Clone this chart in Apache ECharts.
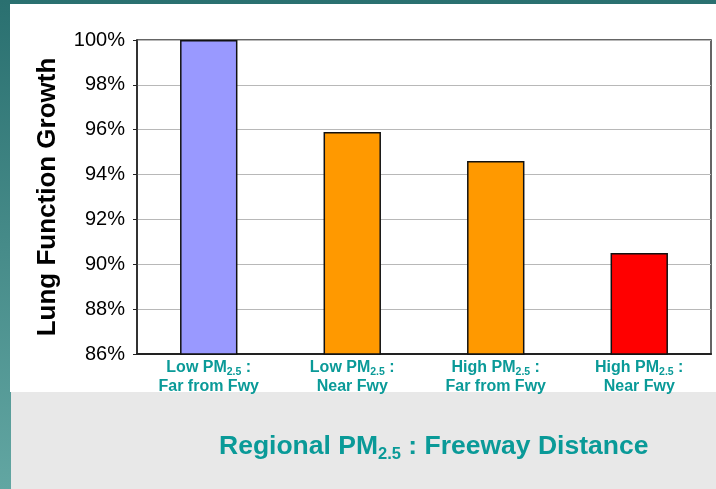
<!DOCTYPE html>
<html>
<head>
<meta charset="utf-8">
<script src="https://cdn.jsdelivr.net/npm/echarts@6/dist/echarts.min.js"></script>
<style>
  html, body { margin: 0; padding: 0; background: #2b7272; }
  #chart { width: 716px; height: 489px; }
</style>
</head>
<body>
<div id="chart"></div>
<script>
// Lung function growth by regional PM2.5 level and freeway distance
const categories = [
  ['Low', 'Far from Fwy'],
  ['Low', 'Near Fwy'],
  ['High', 'Far from Fwy'],
  ['High', 'Near Fwy']
];
const growthValues = [100, 95.9, 94.6, 90.5];
const barColors = ['#9999ff', '#ff9900', '#ff9900', '#ff0000'];
const yTicks = { min: 86, max: 100, interval: 2 };

const teal = '#0a9a98';

const chart = echarts.init(document.getElementById('chart'), null, { renderer: 'canvas' });

const subRich = {
  a: { fontFamily: 'Liberation Sans', fontWeight: 'bold', fontSize: 16, color: teal, lineHeight: 19 },
  s: { fontFamily: 'Liberation Sans', fontWeight: 'bold', fontSize: 10.5, color: teal, lineHeight: 19, padding: [9, 0, 0, 0] }
};

chart.setOption({
  animation: false,
  backgroundColor: 'transparent',
  graphic: [
    {
      type: 'rect', z: -10, silent: true,
      shape: { x: 0, y: 0, width: 716, height: 489 },
      style: {
        fill: new echarts.graphic.LinearGradient(0, 0, 0, 1, [
          { offset: 0, color: '#2a7070' },
          { offset: 1, color: '#62a6a2' }
        ])
      }
    },
    {
      type: 'rect', z: -9, silent: true,
      shape: { x: 10, y: 4, width: 706, height: 388 },
      style: { fill: '#ffffff' }
    },
    {
      type: 'rect', z: -9, silent: true,
      shape: { x: 11, y: 392, width: 705, height: 97 },
      style: { fill: '#e8e8e8' }
    }
  ],
  title: {
    text: '{a|Regional PM}{s|2.5}{a| : Freeway Distance}',
    left: 214,
    top: 426,
    textStyle: {
      rich: {
        a: { fontFamily: 'Liberation Sans', fontWeight: 'bold', fontSize: 26.5, color: teal, lineHeight: 32 },
        s: { fontFamily: 'Liberation Sans', fontWeight: 'bold', fontSize: 16.5, color: teal, lineHeight: 32, padding: [15, 0, 0, 0] }
      }
    }
  },
  grid: {
    left: 137, top: 40, right: 5, bottom: 135,
    show: true,
    backgroundColor: '#ffffff',
    borderColor: '#333333',
    borderWidth: 1.5
  },
  xAxis: {
    type: 'category',
    data: categories.map(c => c[0] + '|' + c[1]),
    axisLine: { lineStyle: { color: '#222222', width: 2 } },
    axisTick: { show: false },
    axisLabel: {
      margin: 4,
      interval: 0,
      formatter: v => {
        const [level, dist] = v.split('|');
        return '{a|' + level + ' PM}{s|2.5}{a| :}\n{a|' + dist + '}';
      },
      rich: subRich
    }
  },
  yAxis: {
    type: 'value',
    min: yTicks.min,
    max: yTicks.max,
    interval: yTicks.interval,
    name: 'Lung Function Growth',
    nameLocation: 'middle',
    nameGap: 76,
    nameTextStyle: { fontFamily: 'Liberation Sans', fontWeight: 'bold', fontSize: 26, color: '#000000' },
    axisLine: { show: true, lineStyle: { color: '#222222', width: 1.5 } },
    axisTick: { show: true, length: 4, lineStyle: { color: '#222222', width: 1 } },
    axisLabel: {
      formatter: v => v + '%',
      fontFamily: 'Liberation Sans',
      fontSize: 20,
      color: '#000000',
      margin: 12
    },
    splitLine: { show: true, lineStyle: { color: '#b8b8b8', width: 1 } }
  },
  series: [{
    type: 'bar',
    data: growthValues.map((v, i) => ({ value: v, itemStyle: { color: barColors[i] } })),
    barWidth: '40%',
    itemStyle: { borderColor: '#111111', borderWidth: 1.5 }
  }]
});
</script>
</body>
</html>
